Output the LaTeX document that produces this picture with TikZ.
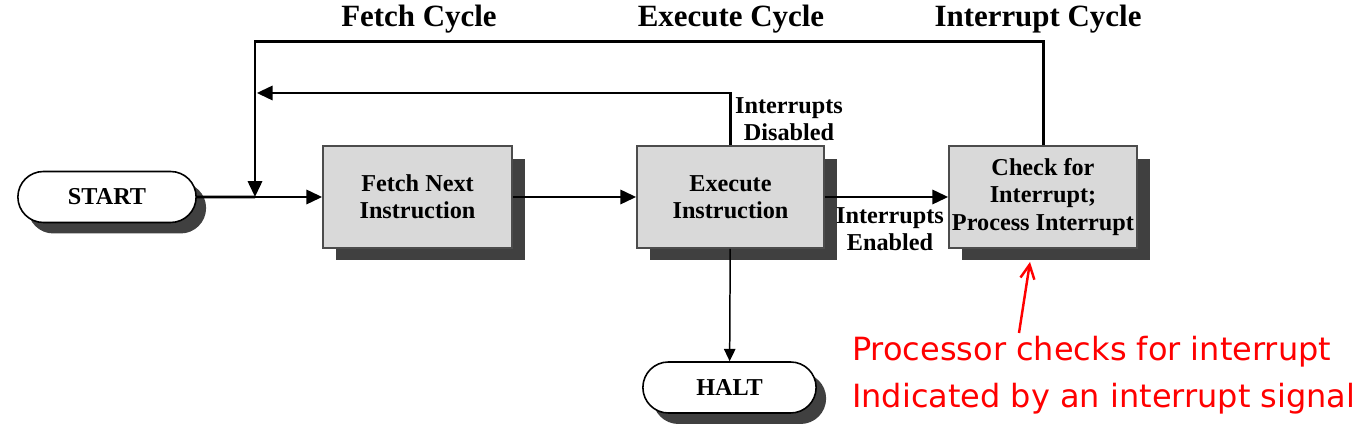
\documentclass[tikz,border=0pt]{standalone}
\usepackage{fontspec}
\setmainfont{Liberation Serif}
\newfontfamily\notefont{DejaVu Sans}
\usetikzlibrary{arrows.meta,shapes.misc,shadows}
\definecolor{boxgray}{HTML}{D9D9D9}
\definecolor{shadowgray}{HTML}{404040}
\begin{document}
\begin{tikzpicture}[x=0.02cm, y=-0.02cm,
    font=\fontsize{13.8}{15.4}\selectfont\bfseries,
    stagebox/.style={draw=black!70, line width=0.9pt, fill=boxgray, align=center,
      minimum height=2.04cm, inner sep=1pt,
      drop shadow={shadow xshift=0.26cm, shadow yshift=-0.25cm, fill=shadowgray, opacity=1}},
    pill/.style={rounded rectangle, draw=black, line width=0.9pt, fill=white,
      minimum height=1.02cm,
      drop shadow={shadow xshift=0.2cm, shadow yshift=-0.22cm, fill=shadowgray, opacity=1}},
    flow/.style={line width=1.7pt, -{Triangle[length=9pt, width=8pt]}},
    thinflow/.style={line width=0.85pt, -{Triangle[length=7pt, width=6.5pt]}},
    cycle/.style={font=\fontsize{17.6}{20}\selectfont\bfseries}]
  \useasboundingbox (0,0) rectangle (1370,438);

  % cycle headings
  \node[cycle] (fetchcyc) at (419,19) {Fetch Cycle};
  \node[cycle] (execcyc) at (731,19) {Execute Cycle};
  \node[cycle] (intcyc) at (1038,19) {Interrupt Cycle};

  % terminals and stages
  \node[pill, minimum width=3.8cm] (start) at (107,197) {START};
  \node[stagebox, minimum width=3.78cm] (fetch) at (417.5,197) {Fetch Next\\Instruction};
  \node[stagebox, minimum width=3.74cm] (exec) at (730.5,197) {Execute\\Instruction};
  \node[stagebox, minimum width=3.76cm] (check) at (1043,197) {Check for\\Interrupt;\\Process Interrupt};
  \node[pill, minimum width=3.7cm] (halt) at (729.5,387.5) {HALT};
  \coordinate (join) at (255,197);

  % main path
  \draw[line width=1.7pt] (start) -- (join);
  \draw[flow] (join) -- (fetch);
  \draw[flow] (fetch) -- (exec);
  \draw[flow] (exec) -- (check);
  \draw[thinflow] (exec) -- (halt);

  % return loops
  \draw[flow] (check.north) -- (check.north |- 0,42) -- (join |- 0,42) -- (join);
  \draw[flow, shorten >=1pt] (exec.north) -- (exec.north |- 0,93) -- (join |- 0,93);

  \node[align=center] (disabled) at (789,119) {Interrupts\\Disabled};
  \node[align=center] (enabled) at (890,229) {Interrupts\\Enabled};

  % note
  \node[anchor=north west, align=left, text=red,
        font=\notefont\fontsize{18.2}{27}\selectfont] (note) at (846,330)
    {Processor checks for interrupt\\Indicated by an interrupt signal};
  \coordinate (notetail) at (1019,333);
  \draw[red, line width=1.4pt, -{Straight Barb[length=8pt, width=8pt]}] (notetail) -- (1030,262);
\end{tikzpicture}
\end{document}
